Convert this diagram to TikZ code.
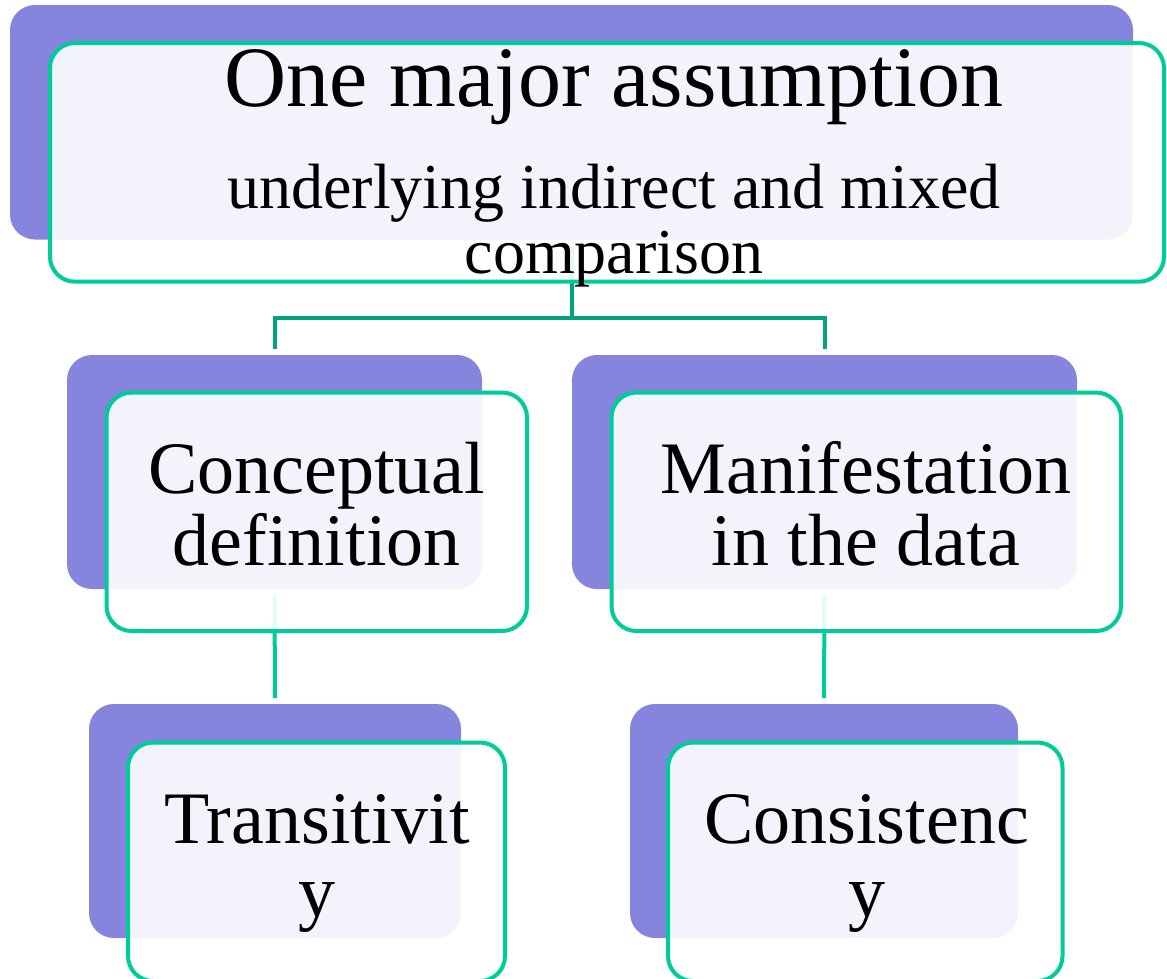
\documentclass[tikz,border=0pt]{standalone}
\usepackage{fontspec}
\setmainfont{Liberation Serif}
\definecolor{boxpurple}{HTML}{8585DD}
\definecolor{boxgreen}{HTML}{00CC99}
\definecolor{linkgreen}{HTML}{00A47C}
\tikzset{
  backbox/.style={rectangle, rounded corners=25pt, fill=boxpurple, draw=none,
    inner sep=0pt, outer sep=0pt},
  frontbox/.style={rectangle, rounded corners=25pt, draw=boxgreen, line width=4pt,
    fill=white, fill opacity=0.9, inner sep=0pt, outer sep=0pt},
  elbow/.style={draw=linkgreen, line width=4pt},
  link/.style={draw=boxgreen, line width=4pt},
  txt/.style={anchor=base, inner sep=0pt, text=black},
  big/.style={txt, font=\fontsize{86}{86}\selectfont},
  mid/.style={txt, font=\fontsize{64}{64}\selectfont},
  lbl/.style={txt, font=\fontsize{74}{74}\selectfont},
}
\begin{document}
\begin{tikzpicture}[x=1pt, y=-1pt]
\useasboundingbox (0,0) rectangle (1167,978);
\clip (0,0) rectangle (1167,978);

% shadow cards
\node[backbox, minimum width=1123pt, minimum height=234.5pt] (p0) at (571.5,122.25) {};
\node[backbox, minimum width=415pt, minimum height=234pt] (p1) at (274.5,472) {};
\node[backbox, minimum width=505pt, minimum height=234pt] (p2) at (824.5,472) {};
\node[backbox, minimum width=372pt, minimum height=234pt] (p3) at (275,821) {};
\node[backbox, minimum width=388pt, minimum height=234pt] (p4) at (824,821) {};

% connectors
\coordinate (j0) at (571.5,317.5);
\draw[elbow, shorten <=6pt] (p0.south) -- (j0);
\draw[elbow, shorten <=6pt, shorten >=6pt] (p1.north) |- (j0) -| (p2.north);
\draw[link, shorten <=6pt, shorten >=6pt] (p1.south) -- (p3.north);
\draw[link, shorten <=6pt, shorten >=6pt] (p2.south) -- (p4.north);

% framed cards
\node[frontbox, minimum width=1114pt, minimum height=238.7pt] (g0) at (607,162.35) {};
\node[frontbox, minimum width=420.5pt, minimum height=238.5pt] (g1) at (316.75,511.75) {};
\node[frontbox, minimum width=509.5pt, minimum height=238.5pt] (g2) at (866.25,511.75) {};
\node[frontbox, minimum width=377pt, minimum height=238.5pt] (g3) at (316.5,861.75) {};
\node[frontbox, minimum width=394.5pt, minimum height=238.5pt] (g4) at (865.25,861.75) {};

% texts
\node[big] (t0a) at (614,106.7) {One major assumption};
\node[mid] (t0b) at (614,208.3) {underlying indirect and mixed};
\node[mid] (t0c) at (614,273.3) {comparison};
\node[lbl] (t1a) at (316.75,493.3) {Conceptual};
\node[lbl] (t1b) at (316.75,565) {definition};
\node[lbl] (t2a) at (866,493.3) {Manifestation};
\node[lbl] (t2b) at (866,565) {in the data};
\node[lbl] (t3a) at (317,843.3) {Transitivit};
\node[lbl] (t3b) at (317,916) {y};
\node[lbl] (t4a) at (866.5,843.3) {Consistenc};
\node[lbl] (t4b) at (866.5,916) {y};
\end{tikzpicture}
\end{document}
